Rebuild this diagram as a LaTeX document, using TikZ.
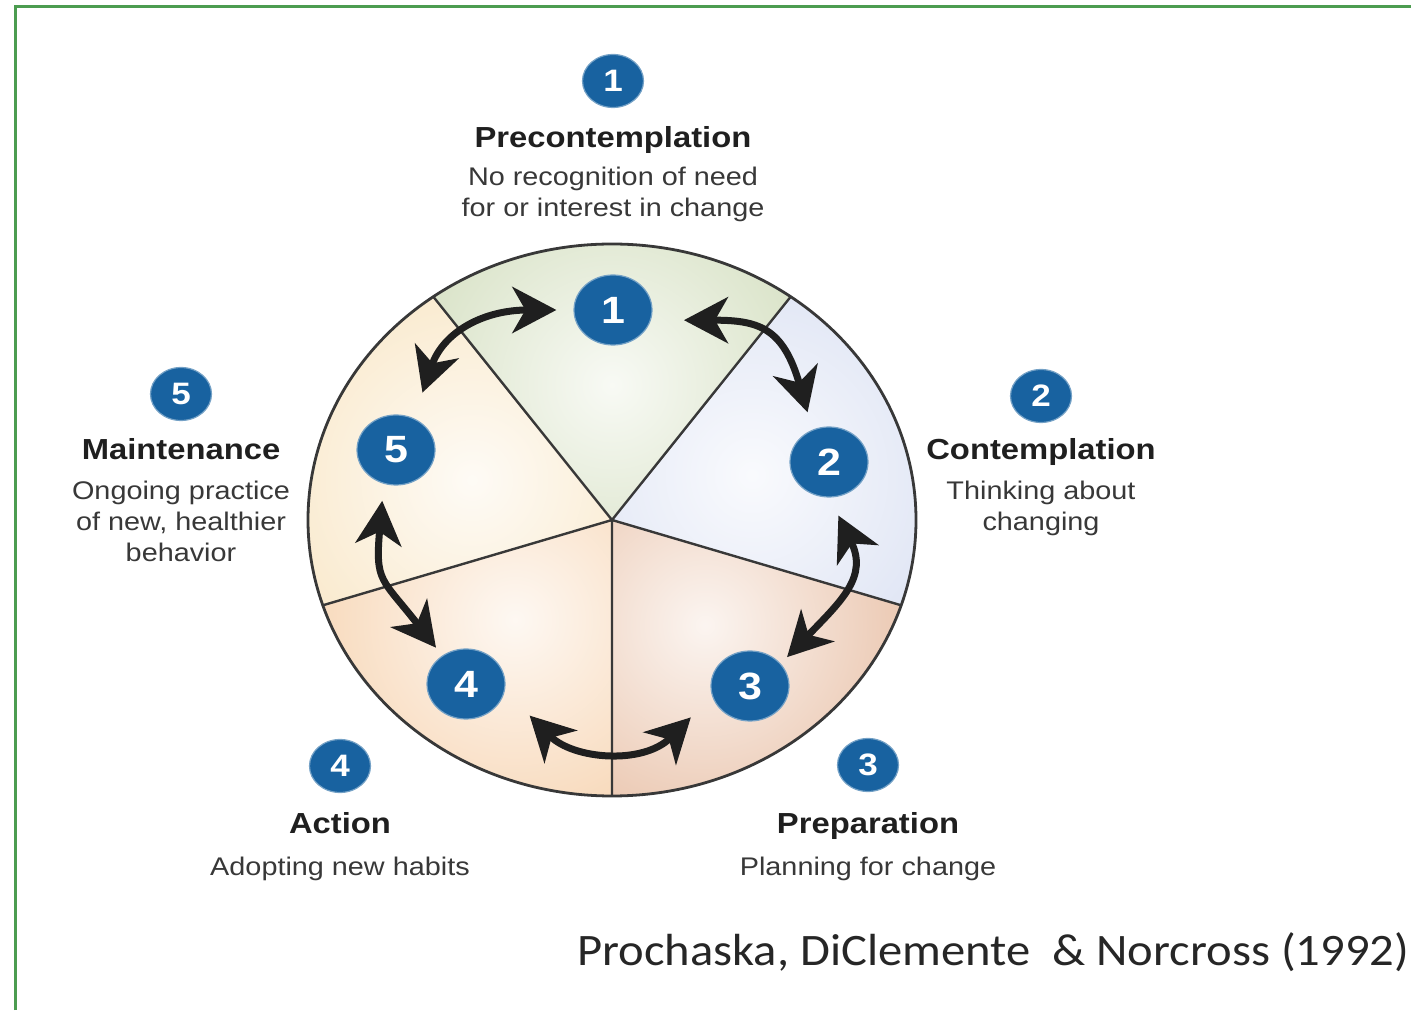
\documentclass[tikz,border=0pt]{standalone}
\usepackage{fontspec}
\setmainfont{Liberation Sans}[FakeStretch=1.13]
\newfontfamily\creditfont{Carlito}[FakeStretch=1.08]
\usetikzlibrary{arrows.meta,shapes.geometric,positioning}

\definecolor{badgeblue}{RGB}{24,98,160}
\definecolor{framegreen}{RGB}{76,156,80}
\definecolor{precol}{RGB}{208,220,186}
\definecolor{contcol}{RGB}{216,223,242}
\definecolor{prepcol}{RGB}{230,186,158}
\definecolor{actcol}{RGB}{246,208,170}
\definecolor{maintcol}{RGB}{248,228,192}

\begin{document}
\begin{tikzpicture}[x=1pt,y=1pt,
    badge/.style={ellipse,fill=badgeblue,draw=badgeblue!60!white,line width=1.2pt,
      text=white,inner sep=0pt},
    bigbadge/.style={badge,minimum width=78pt,minimum height=70pt,
      font=\bfseries\fontsize{38}{38}\selectfont},
    smallbadge/.style={badge,minimum width=61pt,minimum height=53pt,
      font=\bfseries\fontsize{31}{31}\selectfont},
    stagename/.style={anchor=base,inner sep=0pt,text=black!88,
      font=\bfseries\fontsize{29}{34}\selectfont},
    stagenote/.style={align=center,inner sep=0pt,text=black!78,
      font=\fontsize{25.5}{31}\selectfont},
    spoke/.style={draw=black!78,line width=2.4pt},
    swing/.style={draw=black!88,line width=7pt,
      {Stealth[length=44pt,width=46pt,inset=13pt]}-{Stealth[length=44pt,width=46pt,inset=13pt]}}]
    \useasboundingbox (0,0) rectangle (1411,1010);
    \draw[framegreen,line width=3pt] (15,0) -- (15,1003) -- (1411,1003);

    \coordinate (hub) at (612,490);
    \begin{scope}
      \clip (hub) -- ++(54:304 and 276) arc[start angle=54,end angle=126,x radius=304,y radius=276] -- cycle;
      \shade[inner color=precol!15!white,outer color=precol] (612,625) circle (270);
    \end{scope}
    \begin{scope}
      \clip (hub) -- ++(-18:304 and 276) arc[start angle=-18,end angle=54,x radius=304,y radius=276] -- cycle;
      \shade[inner color=contcol!15!white,outer color=contcol] (752,535) circle (270);
    \end{scope}
    \begin{scope}
      \clip (hub) -- ++(270:304 and 276) arc[start angle=270,end angle=342,x radius=304,y radius=276] -- cycle;
      \shade[inner color=prepcol!15!white,outer color=prepcol] (705,385) circle (270);
    \end{scope}
    \begin{scope}
      \clip (hub) -- ++(198:304 and 276) arc[start angle=198,end angle=270,x radius=304,y radius=276] -- cycle;
      \shade[inner color=actcol!15!white,outer color=actcol] (515,390) circle (270);
    \end{scope}
    \begin{scope}
      \clip (hub) -- ++(126:304 and 276) arc[start angle=126,end angle=198,x radius=304,y radius=276] -- cycle;
      \shade[inner color=maintcol!15!white,outer color=maintcol] (472,530) circle (270);
    \end{scope}
    \draw[spoke] (hub) -- ++(54:304 and 276) (hub) -- ++(126:304 and 276)
      (hub) -- ++(198:304 and 276) (hub) -- ++(270:304 and 276)
      (hub) -- ++(342:304 and 276);
    \draw[spoke,line width=2.8pt] (hub) ellipse[x radius=304,y radius=276];

    \node[bigbadge] (b1) at (613,700) {1};
    \node[bigbadge] (b2) at (829,548) {2};
    \node[bigbadge] (b3) at (750,324) {3};
    \node[bigbadge] (b4) at (466,326) {4};
    \node[bigbadge] (b5) at (396,560) {5};

    \draw[swing,shorten <=33pt,shorten >=18pt] (b1.-15) to[out=0,in=106,looseness=1.4] (b2.117);
    \draw[swing,shorten <=20pt,shorten >=9pt] (b2.-89) to[out=-64,in=46,looseness=1.3] (b3.36);
    \draw[swing,shorten <=30pt,shorten >=35pt] (b3.195) to[out=-135,in=-45,looseness=1.2] (b4.-10);
    \draw[swing,shorten <=10pt,shorten >=17pt] (b4.130) to[out=128,in=-95,looseness=1.4] (b5.-110);
    \draw[swing,shorten <=27pt,shorten >=17pt] (b5.61) to[out=71,in=180,looseness=1.2] (b1.west);

    \node[smallbadge] (s1) at (613,929) {1};
    \node[stagename] (t1) at (613,862) {Precontemplation};
    \node[stagenote,below=19pt of t1.base] (d1) {No recognition of need\\for or interest in change};

    \node[smallbadge] (s2) at (1041,614) {2};
    \node[stagename] (t2) at (1041,550) {Contemplation};
    \node[stagenote,below=21pt of t2.base] (d2) {Thinking about\\changing};

    \node[smallbadge] (s3) at (868,245) {3};
    \node[stagename] (t3) at (868,177) {Preparation};
    \node[stagenote,below=24pt of t3.base] (d3) {Planning for change};

    \node[smallbadge] (s4) at (340,244) {4};
    \node[stagename] (t4) at (340,177) {Action};
    \node[stagenote,below=24pt of t4.base] (d4) {Adopting new habits};

    \node[smallbadge] (s5) at (181,616) {5};
    \node[stagename] (t5) at (181,550) {Maintenance};
    \node[stagenote,below=21pt of t5.base] (d5) {Ongoing practice\\of new, healthier\\behavior};

    \node[anchor=base west,inner sep=0pt,text=black!85,font=\creditfont\fontsize{45}{45}\selectfont]
      (src) at (577,45) {Prochaska, DiClemente~~\& Norcross (1992)};
\end{tikzpicture}
\end{document}
